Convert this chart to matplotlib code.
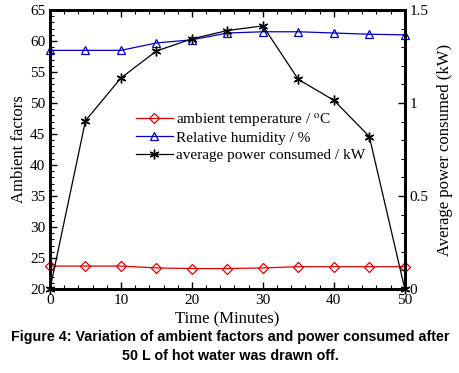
import matplotlib
matplotlib.use("Agg")
import matplotlib.pyplot as plt
from matplotlib.ticker import MultipleLocator, FuncFormatter

time_min = [0, 5, 10, 15, 20, 25, 30, 35, 40, 45, 50]
ambient_temp = [23.7, 23.7, 23.7, 23.4, 23.3, 23.3, 23.4, 23.6, 23.6, 23.6, 23.6]
rel_humidity = [58.5, 58.5, 58.5, 59.7, 60.2, 61.3, 61.5, 61.5, 61.3, 61.1, 61.0]
avg_power = [0.0, 0.905, 1.135, 1.28, 1.345, 1.39, 1.415, 1.127, 1.015, 0.82, 0.0]

plt.rcParams['font.family'] = ['Liberation Serif', 'DejaVu Serif']
plt.rcParams['mathtext.fontset'] = 'stix'

fig = plt.figure(figsize=(4.6, 3.73), dpi=100)
ax = fig.add_axes([0.1087, 0.2252, 0.7713, 0.7478])
ax2 = ax.twinx()

l1, = ax.plot(time_min, ambient_temp, color='#e00000', lw=0.9, marker='D', ms=5,
              mfc='none', mec='#e00000', mew=0.9, clip_on=False, zorder=3)
l2, = ax.plot(time_min, rel_humidity, color='#0000c0', lw=0.9, marker='^', ms=6,
              mfc='none', mec='#0000c0', mew=0.9, clip_on=False, zorder=3)
l3, = ax2.plot(time_min, avg_power, color='black', lw=0.9, marker=(6, 2, 0), ms=7,
               mew=1.0, clip_on=False, zorder=3)

ax.set_xlim(0, 50)
ax.set_ylim(20, 65)
ax2.set_ylim(0, 1.5)

ax.xaxis.set_major_locator(MultipleLocator(10))
ax.xaxis.set_minor_locator(MultipleLocator(2))
ax.yaxis.set_major_locator(MultipleLocator(5))
ax.yaxis.set_minor_locator(MultipleLocator(1))
ax2.yaxis.set_major_locator(MultipleLocator(0.5))
ax2.yaxis.set_minor_locator(MultipleLocator(0.1))
ax2.yaxis.set_major_formatter(FuncFormatter(lambda v, p: '%g' % v))

ax.tick_params(axis='both', which='both', direction='in', labelsize=11)
ax.tick_params(axis='x', which='both', top=True)
ax.tick_params(axis='y', which='both', right=False)
ax.tick_params(which='major', length=5, width=1)
ax.tick_params(which='minor', length=3, width=0.8)
ax2.tick_params(axis='y', which='both', direction='in', labelsize=11)
ax2.tick_params(which='major', length=5, width=1)
ax2.tick_params(which='minor', length=3, width=0.8)

for a in (ax, ax2):
    for s in a.spines.values():
        s.set_linewidth(2.0)

ax.set_xlabel('Time (Minutes)', fontsize=12, labelpad=3)
ax.set_ylabel('Ambient factors', fontsize=12, labelpad=2)
ax2.set_ylabel('Average power consumed (kW)', fontsize=12, labelpad=6)

ax.legend([l1, l2], ['ambient temperature / $^{\\rm o}$C', 'Relative humidity / %'],
          loc='upper left', bbox_to_anchor=(0.225, 0.66), frameon=False,
          fontsize=11, handlelength=2.4, handletextpad=0.2, borderaxespad=0,
          labelspacing=0.15)
ax2.legend([l3], ['average power consumed / kW'], loc='upper left',
           bbox_to_anchor=(0.225, 0.525), frameon=False, fontsize=11,
           handlelength=2.4, handletextpad=0.2, borderaxespad=0)

cap_font = ['Liberation Sans', 'DejaVu Sans']
fig.text(0.5, 0.0965, 'Figure 4: Variation of ambient factors and power consumed after',
         ha='center', va='center', fontsize=10.3, fontweight='bold', family=cap_font)
fig.text(0.5, 0.0456, '50 L of hot water was drawn off.',
         ha='center', va='center', fontsize=10.3, fontweight='bold', family=cap_font)

fig.savefig('out.png', dpi=100)
